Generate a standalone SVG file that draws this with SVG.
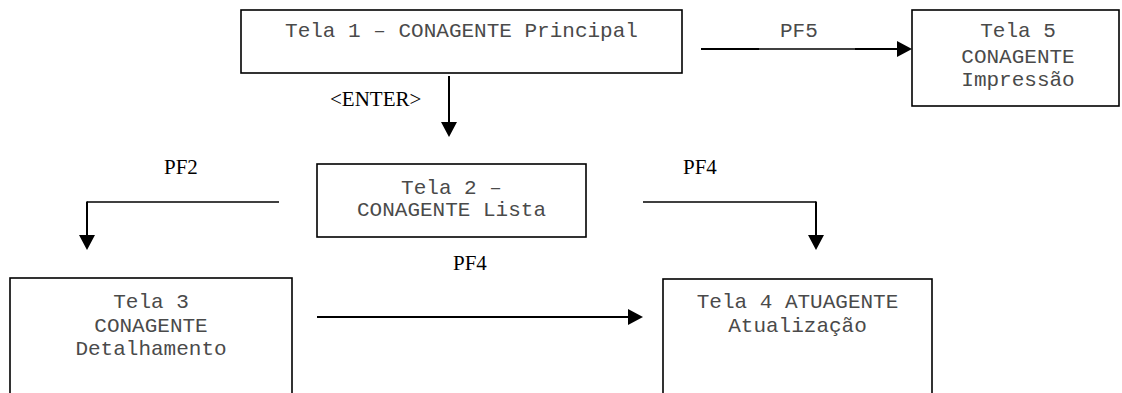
<svg xmlns="http://www.w3.org/2000/svg" width="1122" height="393" viewBox="0 0 1122 393">
<style>
  .box{fill:#fff;stroke:#000;stroke-width:1.6}
  .mono{font-family:"Liberation Mono","Courier New",monospace;font-size:21px;fill:#4a4a4a}
  .serif{font-family:"Liberation Serif","Times New Roman",serif;font-size:21px;fill:#000}
  .wire{fill:none;stroke:#000;stroke-width:2}
  .thin{fill:none;stroke:#000;stroke-width:1.3}
</style>
<defs>
  <marker id="ah" markerUnits="userSpaceOnUse" markerWidth="16" markerHeight="16" refX="0" refY="8" orient="auto">
    <path d="M0,0 L15,8 L0,16 Z" fill="#000"/>
  </marker>
</defs>
<rect width="1122" height="393" fill="#fff"/>
<g id="connectors">
  <line class="wire" x1="449" y1="76" x2="449" y2="122" marker-end="url(#ah)"/>
  <line class="wire" x1="701" y1="49" x2="759" y2="49"/>
  <line class="thin" x1="759" y1="49" x2="855" y2="49"/>
  <line class="wire" x1="855" y1="49" x2="897" y2="49" marker-end="url(#ah)"/>
  <path class="thin" d="M279,202 H87"/>
  <path class="wire" d="M87,201.5 V235" marker-end="url(#ah)"/>
  <path class="thin" d="M643,202 H816"/>
  <path class="wire" d="M816,201.5 V235" marker-end="url(#ah)"/>
  <line class="wire" x1="317" y1="317" x2="628" y2="317" marker-end="url(#ah)"/>
  <text class="serif" x="330" y="106">&lt;ENTER&gt;</text>
  <text class="mono" x="780" y="37">PF5</text>
  <text class="serif" x="164" y="174">PF2</text>
  <text class="serif" x="683" y="174">PF4</text>
  <text class="serif" x="453" y="270">PF4</text>
</g>
<g id="tela1">
  <rect class="box" x="241" y="10" width="441" height="63"/>
  <text class="mono" x="461.5" y="37" text-anchor="middle">Tela 1 – CONAGENTE Principal</text>
</g>
<g id="tela5">
  <rect class="box" x="912" y="10" width="207" height="96"/>
  <text class="mono" x="1018" y="37" text-anchor="middle">Tela 5</text>
  <text class="mono" x="1018" y="63" text-anchor="middle">CONAGENTE</text>
  <text class="mono" x="1018" y="86" text-anchor="middle">Impressão</text>
</g>
<g id="tela2">
  <rect class="box" x="317" y="164" width="269" height="73"/>
  <text class="mono" x="451.5" y="194" text-anchor="middle">Tela 2 – </text>
  <text class="mono" x="451.5" y="216" text-anchor="middle">CONAGENTE Lista</text>
</g>
<g id="tela3">
  <rect class="box" x="10" y="278" width="282" height="140"/>
  <text class="mono" x="151" y="308" text-anchor="middle">Tela 3</text>
  <text class="mono" x="151" y="332" text-anchor="middle">CONAGENTE</text>
  <text class="mono" x="151" y="355" text-anchor="middle">Detalhamento</text>
</g>
<g id="tela4">
  <rect class="box" x="663" y="279" width="269" height="140"/>
  <text class="mono" x="797.5" y="308" text-anchor="middle">Tela 4 ATUAGENTE</text>
  <text class="mono" x="797.5" y="332" text-anchor="middle">Atualização</text>
</g>
</svg>
